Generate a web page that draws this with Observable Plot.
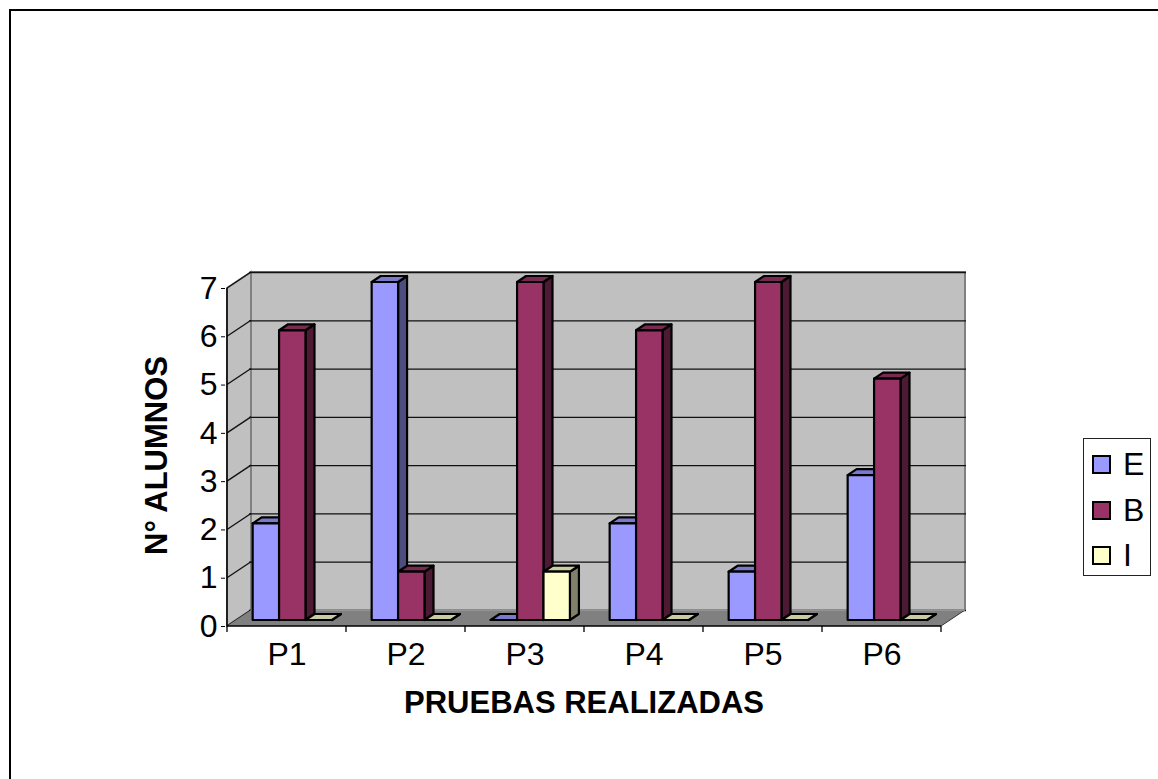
<!DOCTYPE html>
<html>
<head>
<meta charset="utf-8">
<script src="https://cdn.jsdelivr.net/npm/d3@7"></script>
<script src="https://cdn.jsdelivr.net/npm/@observablehq/plot@0.6"></script>
<style>
  html, body { margin: 0; padding: 0; background: #fff; }
  #wrap { position: relative; width: 1158px; height: 779px; overflow: hidden; font-family: "Liberation Sans", Arial, sans-serif; }
  #border { position: absolute; left: 9px; top: 9px; width: 2000px; height: 2000px; border-top: 2px solid #000; border-left: 2px solid #000; pointer-events: none; }
  #legend { position: absolute; left: 1083px; top: 438px; width: 66px; height: 136px; border: 1px solid #222; background: #fff; }
  .item { position: absolute; left: 8px; height: 30px; }
  .sw { position: absolute; left: 0; top: 6px; width: 15px; height: 15px; border: 2px solid #000; }
  .lab { position: absolute; left: 31px; top: -3px; font-size: 32px; line-height: 36px; color: #000; }
</style>
</head>
<body>
<div id="wrap"></div>
<script>
// ---- data ----
const categories = ["P1", "P2", "P3", "P4", "P5", "P6"];
const seriesNames = ["E", "B", "I"];
const valuesE = [2, 7, 0, 2, 1, 3];
const valuesB = [6, 1, 7, 6, 7, 5];
const valuesI = [0, 0, 1, 0, 0, 0];
const yTicks = [0, 1, 2, 3, 4, 5, 6, 7];
const xTitle = "PRUEBAS REALIZADAS";
const yTitle = "N° ALUMNOS";

const colors = {
  E: {front: "#9999FF", top: "#7a7acc", side: "#4d4d80"},
  B: {front: "#993366", top: "#7a2952", side: "#4d1a33"},
  I: {front: "#FFFFCC", top: "#cccca3", side: "#80806a"}
};

const seriesValues = {E: valuesE, B: valuesB, I: valuesI};
const rows = [];
categories.forEach((c, i) => seriesNames.forEach((s, k) => rows.push({cat: c, series: s, k, value: seriesValues[s][i]})));

const W = 1158, H = 779;
const TICK_FS = 32;
const hasAxisMarks = typeof Plot.axisX === "function";
const axisMarks = hasAxisMarks ? [
  Plot.axisY({ticks: yTicks, tickSize: 4, tickPadding: 4, fontSize: TICK_FS, tickFormat: d3.format("d"), label: null}),
  Plot.axisX({tickSize: 0, tickPadding: 16, fontSize: TICK_FS, label: null})
] : [];

const chart = Plot.plot({
  width: W,
  height: H,
  marginLeft: 225,
  marginRight: 216,
  marginTop: 288,
  marginBottom: 153,
  style: {fontFamily: "'Liberation Sans', Arial, sans-serif", fontSize: TICK_FS + "px", color: "#000", background: "transparent", overflow: "visible"},
  x: {type: "band", domain: categories, padding: 0, tickSize: 0, tickPadding: 16, label: null, axis: hasAxisMarks ? null : "bottom"},
  y: {domain: [0, 7], ticks: yTicks, tickSize: 4, tickPadding: 4, tickFormat: d3.format("d"), label: null, axis: hasAxisMarks ? null : "left"},
  marks: [
    Plot.ruleY(yTicks, {y: d => d, dx: 24, dy: -16, stroke: "#111", strokeWidth: 1.3}),
    ...axisMarks,
    Plot.text([xTitle], {text: d => d, frameAnchor: "bottom", dy: 86, fontSize: 31, fontWeight: "bold"}),
    Plot.text([yTitle], {text: d => d, frameAnchor: "left", textAnchor: "middle", rotate: -90, dx: -68, dy: -2, fontSize: 31, fontWeight: "bold"})
  ]
});

document.getElementById("wrap").appendChild(chart);
if (!hasAxisMarks) d3.select(chart).selectAll("g[aria-label$='axis'] text, g[aria-label*='tick label'] text").attr("font-size", TICK_FS);

// ---- 3D geometry through Plot's own scales ----
const xs = chart.scale("x");
const ys = chart.scale("y");
const svg = d3.select(chart);
const bw = xs.bandwidth;
const xStart = xs.apply(categories[0]);
const xEnd = xs.apply(categories[categories.length - 1]) + bw;
const y0 = ys.apply(0), yMax = ys.apply(7);
const DX = 24, DY = -16;          // floor depth
const fdx = 9, fdy = -6;          // bar front plane offset
const bdx = 9, bdy = -6;          // bar depth
const barW = bw * 0.222;
const gapL = bw * 0.14;

const pts = a => a.map(p => p.join(",")).join(" ");

// walls (inserted behind the gridlines)
const back = svg.insert("g", ":first-child");
back.append("polygon").attr("points", pts([[xStart + DX, yMax + DY], [xEnd + DX, yMax + DY], [xEnd + DX, y0 + DY], [xStart + DX, y0 + DY]]))
  .attr("fill", "#c0c0c0").attr("stroke", "#808080").attr("stroke-width", 2);
back.append("polygon").attr("points", pts([[xStart, yMax], [xStart + DX, yMax + DY], [xStart + DX, y0 + DY], [xStart, y0]]))
  .attr("fill", "#c0c0c0").attr("stroke", "#808080").attr("stroke-width", 2);

const front = svg.append("g");
// left wall gridlines
yTicks.forEach(t => {
  const y = ys.apply(t);
  front.append("line").attr("x1", xStart).attr("y1", y).attr("x2", xStart + DX).attr("y2", y + DY)
    .attr("stroke", "#111").attr("stroke-width", 1.3);
});
// floor
front.append("polygon").attr("points", pts([[xStart, y0], [xEnd, y0], [xEnd + DX, y0 + DY], [xStart + DX, y0 + DY]]))
  .attr("fill", "#808080").attr("stroke", "none");
front.append("line").attr("x1", xEnd).attr("y1", y0).attr("x2", xEnd + DX).attr("y2", y0 + DY)
  .attr("stroke", "#333").attr("stroke-width", 1);
front.append("line").attr("x1", xStart + DX).attr("y1", y0 + DY).attr("x2", xEnd + DX).attr("y2", y0 + DY)
  .attr("stroke", "#9a9a9a").attr("stroke-width", 1.5);
// axis lines and boundary ticks
front.append("line").attr("x1", xStart).attr("y1", y0).attr("x2", xEnd).attr("y2", y0).attr("stroke", "#000").attr("stroke-width", 1.5);
front.append("line").attr("x1", xStart).attr("y1", yMax).attr("x2", xStart).attr("y2", y0).attr("stroke", "#000").attr("stroke-width", 1.5);
categories.concat([null]).forEach((c, i) => {
  const x = c === null ? xEnd : xs.apply(c);
  front.append("line").attr("x1", x).attr("y1", y0).attr("x2", x).attr("y2", y0 + 6).attr("stroke", "#000").attr("stroke-width", 1.3);
});

// bars (drawn left to right so neighbours hide side faces)
const bars = svg.append("g").attr("stroke", "#000").attr("stroke-width", 2.2).attr("stroke-linejoin", "round");
rows.forEach(r => {
  const x0 = xs.apply(r.cat) + gapL + fdx + r.k * barW;
  const x1 = x0 + barW;
  const yb = y0 + fdy;
  const yt = ys.apply(r.value) + fdy;
  const c = colors[r.series];
  bars.append("polygon").attr("points", pts([[x1, yt], [x1 + bdx, yt + bdy], [x1 + bdx, yb + bdy], [x1, yb]])).attr("fill", c.side);
  bars.append("polygon").attr("points", pts([[x0, yt], [x1, yt], [x1 + bdx, yt + bdy], [x0 + bdx, yt + bdy]])).attr("fill", c.top);
  bars.append("polygon").attr("points", pts([[x0, yt], [x1, yt], [x1, yb], [x0, yb]])).attr("fill", c.front);
});

// chart border and legend
const wrap = document.getElementById("wrap");
const border = document.createElement("div");
border.id = "border";
wrap.appendChild(border);
const legend = document.createElement("div");
legend.id = "legend";
seriesNames.forEach((s, i) => {
  const it = document.createElement("div");
  it.className = "item";
  it.style.top = (10 + i * 45.5) + "px";
  const sw = document.createElement("div");
  sw.className = "sw";
  sw.style.background = colors[s].front;
  const lab = document.createElement("div");
  lab.className = "lab";
  lab.textContent = s;
  it.appendChild(sw);
  it.appendChild(lab);
  legend.appendChild(it);
});
wrap.appendChild(legend);
</script>
</body>
</html>
